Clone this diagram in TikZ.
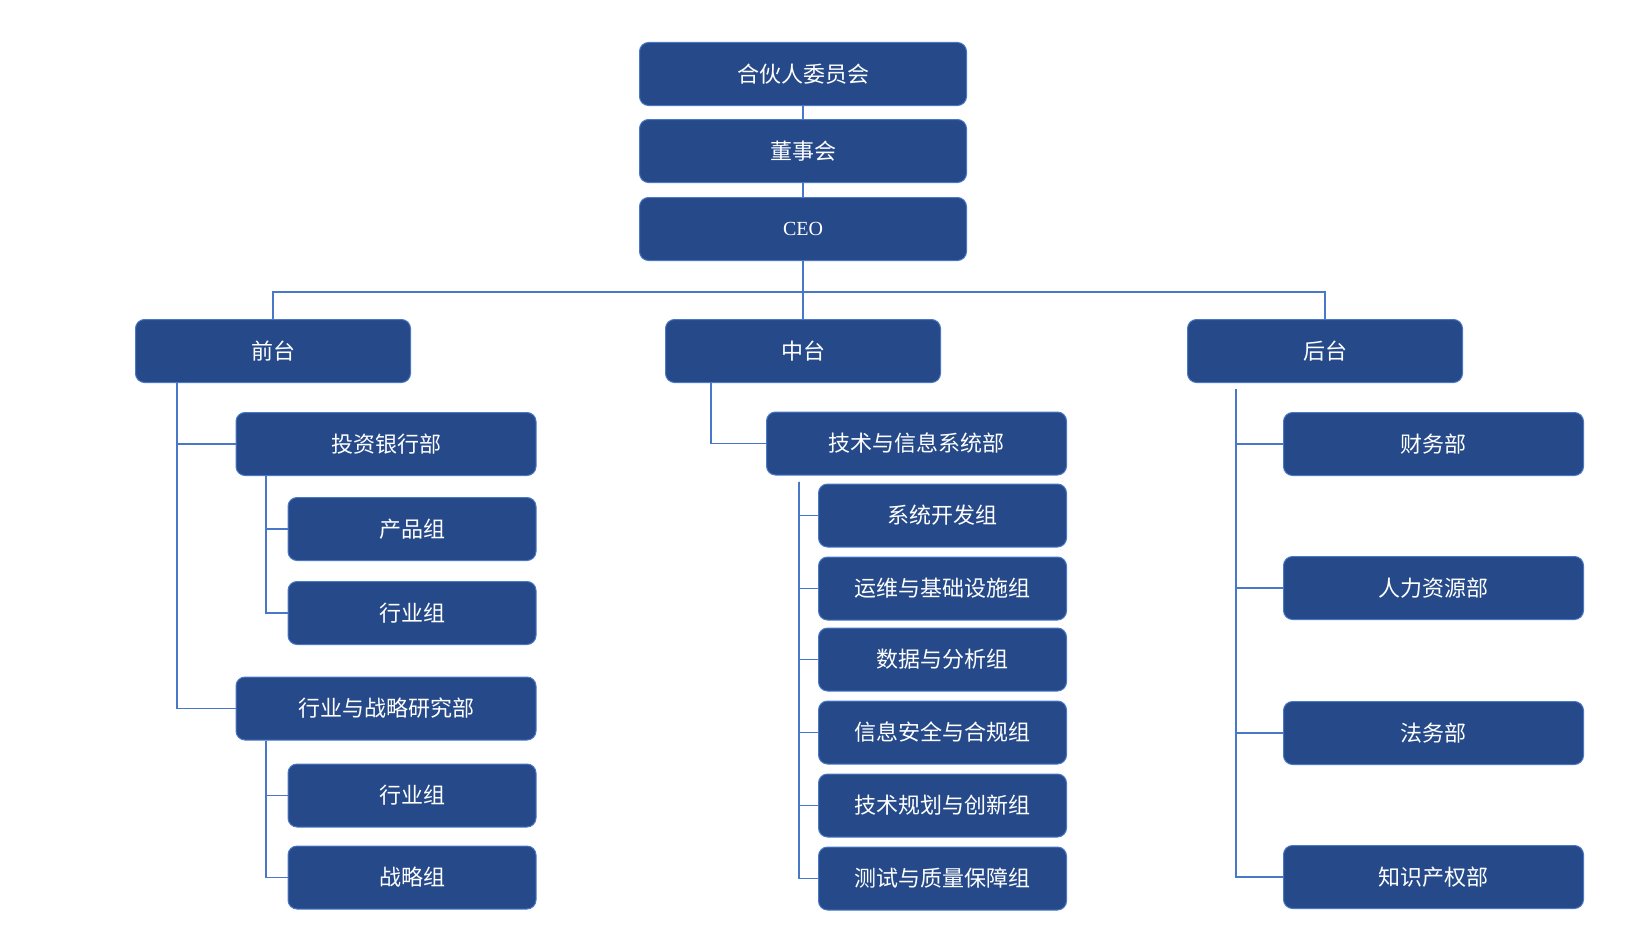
\documentclass[tikz,border=0pt]{standalone}
\usepackage{fontspec}
\setmainfont{Liberation Serif}
\newfontfamily\cjk{Noto Sans CJK SC}
\usetikzlibrary{positioning}
\definecolor{boxblue}{HTML}{264A89}
\definecolor{edgeblue}{HTML}{4A78C8}

\begin{document}
\begin{tikzpicture}[x=1pt,y=-1pt,
  font=\cjk\fontsize{22}{26}\selectfont,
  orgbox/.style={draw=edgeblue,fill=boxblue,text=white,rounded corners=9pt,
    line width=1pt,minimum width=300pt,minimum height=63pt,align=center,inner sep=0pt},
  headbox/.style={orgbox,minimum width=275pt},
  topbox/.style={orgbox,minimum width=327pt},
  subbox/.style={orgbox,minimum width=248pt},
  wire/.style={draw=edgeblue,line width=1.7pt}]
\useasboundingbox (0,0) rectangle (1630,942);
% top of the chart
\node[topbox] (partners) at (803,74) {合伙人委员会};
\node[topbox,below=13pt of partners] (board) {董事会};
\node[topbox,below=14pt of board,font=\rmfamily\fontsize{20}{24}\selectfont] (ceo) {CEO};
\coordinate (bus) at (803,292);
\node[headbox] (front) at (273,351) {前台};
\node[headbox] (middle) at (803,351) {中台};
\node[headbox] (back) at (1325,351) {后台};
% front office
\node[orgbox] (ibd) at (386,444) {投资银行部};
\node[subbox,below=21pt of ibd.south east,anchor=north east] (products) {产品组};
\node[subbox,below=20pt of products] (sectorA) {行业组};
\node[orgbox] (research) at (386,708.5) {行业与战略研究部};
\node[subbox,below=23pt of research.south east,anchor=north east] (sectorB) {行业组};
\node[subbox,below=18pt of sectorB] (strategy) {战略组};
% middle office
\node[orgbox] (tech) at (916.5,443.5) {技术与信息系统部};
\node[subbox,below=8pt of tech.south east,anchor=north east] (devgroup) {系统开发组};
\node[subbox,below=9pt of devgroup] (opsgroup) {运维与基础设施组};
\node[subbox,below=7pt of opsgroup] (datagroup) {数据与分析组};
\node[subbox,below=9pt of datagroup] (secgroup) {信息安全与合规组};
\node[subbox,below=9pt of secgroup] (plangroup) {技术规划与创新组};
\node[subbox,below=9pt of plangroup] (qagroup) {测试与质量保障组};
% back office
\node[orgbox] (finance) at (1433.5,444) {财务部};
\node[orgbox,below=80pt of finance] (hr) {人力资源部};
\node[orgbox,below=81pt of hr] (legal) {法务部};
\node[orgbox,below=80pt of legal] (ipdept) {知识产权部};
% connectors
\draw[wire] (partners) -- (board);
\draw[wire] (board) -- (ceo);
\draw[wire] (ceo) -- (middle);
\draw[wire] (front.north) |- (bus) -| (back.north);
\draw[wire] (front.south -| 177,0) |- (ibd.west);
\draw[wire] (front.south -| 177,0) |- (research.west);
\draw[wire] (ibd.south -| 266,0) |- (products.west);
\draw[wire] (ibd.south -| 266,0) |- (sectorA.west);
\draw[wire] (research.south -| 266,0) |- (sectorB.west);
\draw[wire] (research.south -| 266,0) |- (strategy.west);
\draw[wire] (middle.south -| 711,0) |- (tech.west);
\foreach \g in {devgroup,opsgroup,datagroup,secgroup,plangroup,qagroup}
  \draw[wire] ([yshift=-6pt]tech.south -| 799,0) |- (\g.west);
\foreach \d in {finance,hr,legal,ipdept}
  \draw[wire] ([yshift=-6pt]back.south -| 1236,0) |- (\d.west);
\end{tikzpicture}
\end{document}
